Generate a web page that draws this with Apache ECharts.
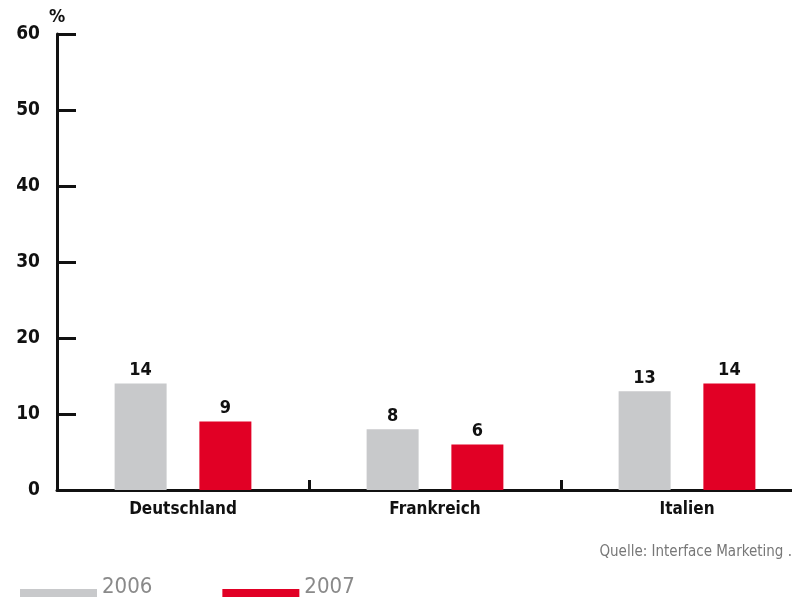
<!DOCTYPE html>
<html>
<head>
<meta charset="utf-8">
<script src="https://cdn.jsdelivr.net/npm/echarts@6/dist/echarts.min.js"></script>
<style>
  html, body { margin: 0; padding: 0; background: #fff; overflow: hidden; }
  /* the plot runs past the right and bottom edges of the window */
  #chart { width: 813px; height: 620px; }
</style>
</head>
<body>
<div id="chart"></div>
<script>
// Anteil je Land, Jahre 2006 und 2007 (in %)
const categories = ['Deutschland', 'Frankreich', 'Italien'];
const values2006 = [14, 8, 13];
const values2007 = [9, 6, 14];
const yTicks = [0, 10, 20, 30, 40, 50, 60];
const seriesNames = ['2006', '2007'];
const sourceText = 'Quelle: Interface Marketing .';

const FONT = "'Liberation Sans Narrow', 'DejaVu Sans Condensed', 'Liberation Sans', sans-serif";
const GRAY = '#C8C9CB';
const RED = '#E10025';

const chart = echarts.init(document.getElementById('chart'), null, { renderer: 'canvas' });

const labelStyle = {
  show: true,
  position: 'top',
  distance: 4,
  color: '#111',
  fontFamily: FONT,
  fontWeight: 'bold',
  fontSize: 18
};

// legend swatch sits a little below the text line
const swatch = 'path://M0,0 M0,20 L77,20 L77,37 L0,37 Z';

chart.setOption({
  animation: false,
  grid: { left: 57, right: 0, top: 34, bottom: 130, containLabel: false },
  legend: {
    left: 15,
    top: 564,
    itemWidth: 77,
    itemHeight: 37,
    itemGap: 70,
    data: seriesNames.map(function (n) { return { name: n, icon: swatch }; }),
    textStyle: {
      color: '#8a8a8a',
      fontFamily: FONT,
      fontSize: 22
    }
  },
  xAxis: {
    type: 'category',
    data: categories,
    axisLine: { lineStyle: { color: '#111', width: 3 } },
    axisTick: { show: true, interval: 0, inside: true, length: 10, lineStyle: { color: '#111', width: 3 } },
    axisLabel: {
      color: '#111',
      fontFamily: FONT,
      fontWeight: 'bold',
      fontSize: 17,
      margin: 11
    }
  },
  yAxis: {
    type: 'value',
    min: yTicks[0],
    max: yTicks[yTicks.length - 1],
    interval: yTicks[1] - yTicks[0],
    name: '%',
    nameLocation: 'end',
    nameGap: 8,
    nameTextStyle: {
      color: '#111',
      fontFamily: FONT,
      fontWeight: 'bold',
      fontSize: 18,
      align: 'center'
    },
    axisLine: { show: true, lineStyle: { color: '#111', width: 3 } },
    axisTick: { show: true, inside: true, length: 19, lineStyle: { color: '#111', width: 3 } },
    splitLine: { show: false },
    axisLabel: {
      color: '#111',
      fontFamily: FONT,
      fontWeight: 'bold',
      fontSize: 19,
      margin: 17
    }
  },
  series: [
    {
      name: seriesNames[0],
      type: 'bar',
      data: values2006,
      barWidth: 52,
      barGap: '63%',
      itemStyle: { color: GRAY },
      label: labelStyle
    },
    {
      name: seriesNames[1],
      type: 'bar',
      data: values2007,
      barWidth: 52,
      barGap: '63%',
      itemStyle: { color: RED },
      label: labelStyle
    }
  ],
  graphic: [
    {
      type: 'text',
      right: 21,
      top: 545,
      style: {
        text: sourceText,
        fill: '#777',
        font: "15px " + FONT
      }
    }
  ]
});
</script>
</body>
</html>
